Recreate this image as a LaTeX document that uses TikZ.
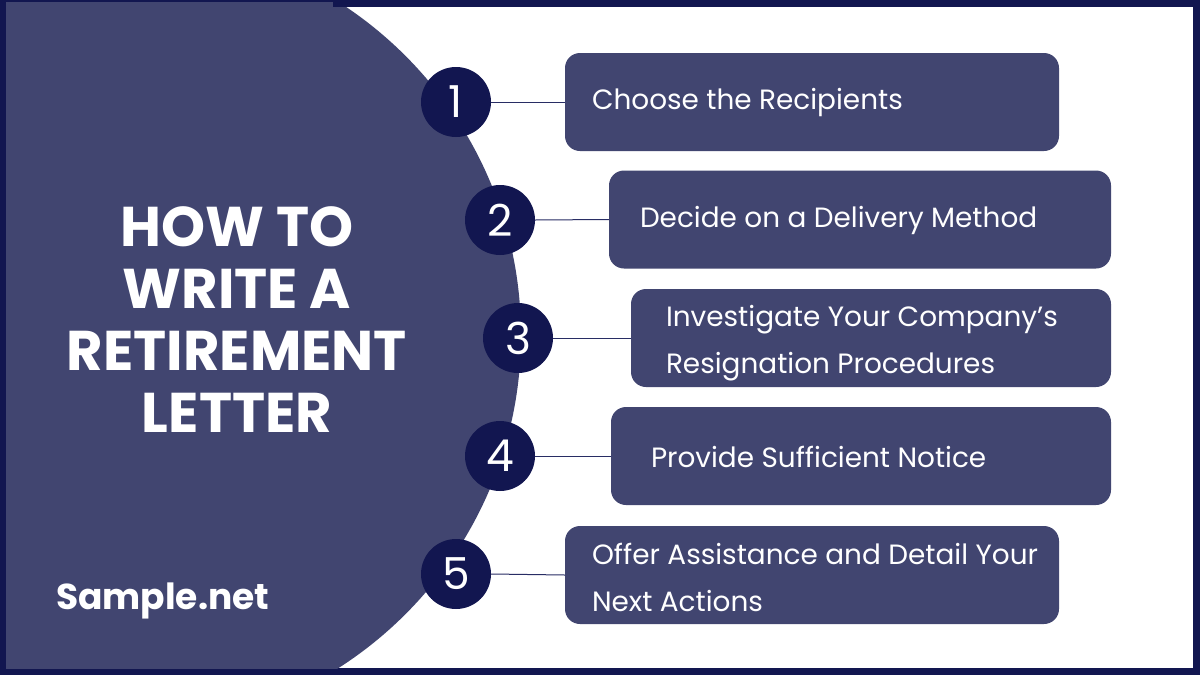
\documentclass[tikz,border=0pt]{standalone}
\usepackage{fontspec}
\setmainfont{Poppins}
\definecolor{slate}{RGB}{65,69,112}
\definecolor{navy}{RGB}{18,22,80}
\definecolor{linkc}{RGB}{40,45,100}
\tikzset{
  numc/.style={circle, fill=navy, minimum size=70pt, inner sep=0pt, text=white,
    font=\fontsize{44}{44}\selectfont},
  stepbox/.style={fill=slate, rounded corners=15pt, minimum height=98pt, inner sep=0pt},
  steptext/.style={anchor=west, inner sep=0pt, text=white, align=left,
    font=\fontsize{27.9}{46.5}\selectfont},
  link/.style={draw=linkc, line width=1pt}
}
\begin{document}
\begin{tikzpicture}[x=1pt,y=-1pt]
\fill[navy] (0,0) rectangle (1200,675);
\fill[white] (6,7) rectangle (1193,668);
\begin{scope}
  \clip (6,7) rectangle (1193,668);
  \fill[slate] (126,335) circle[radius=395pt];
\end{scope}
\fill[slate] (6,2) rectangle (333,7);

\node[font=\bfseries\fontsize{56}{62}\selectfont, text=white, align=center] (title) at (237,320)
  {HOW TO\\WRITE A\\RETIREMENT\\LETTER};
\node[font=\bfseries\fontsize{36}{44}\selectfont, text=white, anchor=base west, inner sep=0pt] (brand)
  at (56,609) {Sample.net};

\node[numc] (c1) at (456,102) {1};
\node[numc] (c2) at (500,220) {2};
\node[numc] (c3) at (518,338) {3};
\node[numc] (c4) at (500,456) {4};
\node[numc] (c5) at (456,574) {5};

\node[stepbox, minimum width=494pt] (b1) at (812,102) {};
\node[stepbox, minimum width=502pt] (b2) at (860,219.5) {};
\node[stepbox, minimum width=480pt] (b3) at (871,338) {};
\node[stepbox, minimum width=500pt] (b4) at (861,456) {};
\node[stepbox, minimum width=494pt] (b5) at (812,575) {};

\node[steptext] (t1) at ([xshift=27pt, yshift=-1pt]b1.west) {Choose the Recipients};
\node[steptext] (t2) at ([xshift=31pt, yshift=-1pt]b2.west) {Decide on a Delivery Method};
\node[steptext] (t3) at ([xshift=35pt, yshift=-5pt]b3.west) {Investigate Your Company’s\\Resignation Procedures};
\node[steptext] (t4) at ([xshift=40pt, yshift=-1pt]b4.west) {Provide Sufficient Notice};
\node[steptext] (t5) at ([xshift=27pt, yshift=-2.5pt]b5.west) {Offer Assistance and Detail Your\\Next Actions};

\draw[link] (c1.east) -- (b1.west);
\draw[link] (c2.east) -- (b2.west);
\draw[link] (c3.east) -- (b3.west);
\draw[link] (c4.east) -- (b4.west);
\draw[link] (c5.east) -- (b5.west);
\end{tikzpicture}
\end{document}
